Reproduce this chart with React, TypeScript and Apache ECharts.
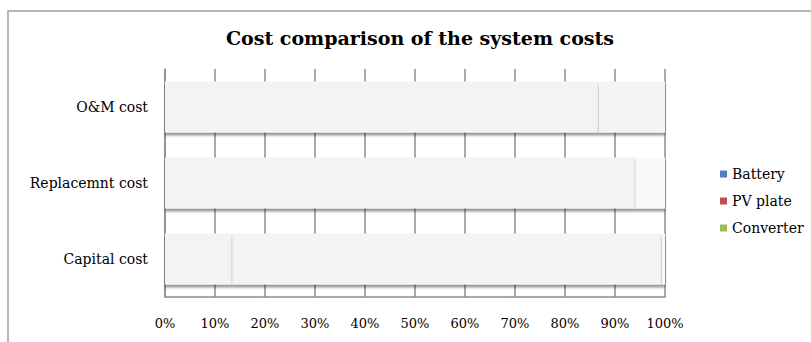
import React, { useEffect, useRef } from "react";
import * as echarts from "echarts";

// Cost categories (bottom to top) and each component's share in percent
const categories = ["Capital cost", "Replacemnt cost", "O&M cost"];
const battery = [13.5, 94.1, 86.8];
const pvPlate = [85.9, 0, 13.2];
const converter = [0.6, 5.9, 0];
const xTicks = [0, 10, 20, 30, 40, 50, 60, 70, 80, 90, 100];

const FONT = "DejaVu Serif";

export default function App() {
  const ref = useRef<HTMLDivElement>(null);

  useEffect(() => {
    if (!ref.current) return;
    const chart = echarts.init(ref.current, undefined, { renderer: "svg" });

    const barShadow = {
      shadowColor: "rgba(0,0,0,0.4)",
      shadowBlur: 2,
      shadowOffsetY: 3,
    };

    const mk = (name: string, data: number[], fill: string) => ({
      name,
      type: "bar",
      stack: "total",
      data,
      barCategoryGap: "33%",
      itemStyle: { color: fill, ...barShadow },
    });

    chart.setOption({
      animation: false,
      backgroundColor: "#ffffff",
      title: {
        text: "Cost comparison of the system costs",
        left: 415,
        top: 23,
        textAlign: "center",
        textStyle: { fontFamily: FONT, fontSize: 19, fontWeight: "bold", color: "#000" },
      },
      graphic: [
        {
          type: "rect",
          shape: { x: 8, y: 11, width: 830, height: 400 },
          style: { fill: "none", stroke: "#a0a0a0", lineWidth: 1.5 },
          silent: true,
        },
      ],
      legend: {
        orient: "vertical",
        left: 715,
        top: 162,
        itemWidth: 7,
        itemHeight: 7,
        itemGap: 13,
        icon: "rect",
        textStyle: { fontFamily: FONT, fontSize: 14, color: "#000" },
        data: [
          { name: "Battery", itemStyle: { color: "#4f81bd" } },
          { name: "PV plate", itemStyle: { color: "#c0504d" } },
          { name: "Converter", itemStyle: { color: "#9bbb59" } },
        ],
      },
      grid: { left: 165, right: 146, top: 69, bottom: 45, containLabel: false },
      xAxis: {
        type: "value",
        min: xTicks[0],
        max: xTicks[xTicks.length - 1],
        interval: 10,
        axisLine: { show: true, lineStyle: { color: "#8c8c8c", width: 1.5 } },
        axisTick: { show: false },
        splitLine: { show: true, lineStyle: { color: "#8c8c8c", width: 1.5 } },
        axisLabel: {
          formatter: "{value}%",
          margin: 20,
          fontFamily: FONT,
          fontSize: 13,
          color: "#000",
        },
      },
      yAxis: {
        type: "category",
        data: categories,
        axisLine: { show: true, lineStyle: { color: "#8c8c8c", width: 1.5 } },
        axisTick: { show: false },
        axisLabel: { margin: 17, fontFamily: FONT, fontSize: 14, color: "#000" },
      },
      series: [
        mk("Battery", battery, "#f3f3f3"),
        mk("PV plate", pvPlate, "#f4f4f4"),
        mk("Converter", converter, "#f9f9f9"),
      ],
    });

    return () => chart.dispose();
  }, []);

  return (
    <div
      ref={ref}
      style={{ position: "fixed", left: 0, top: 0, width: 811, height: 342 }}
    />
  );
}
